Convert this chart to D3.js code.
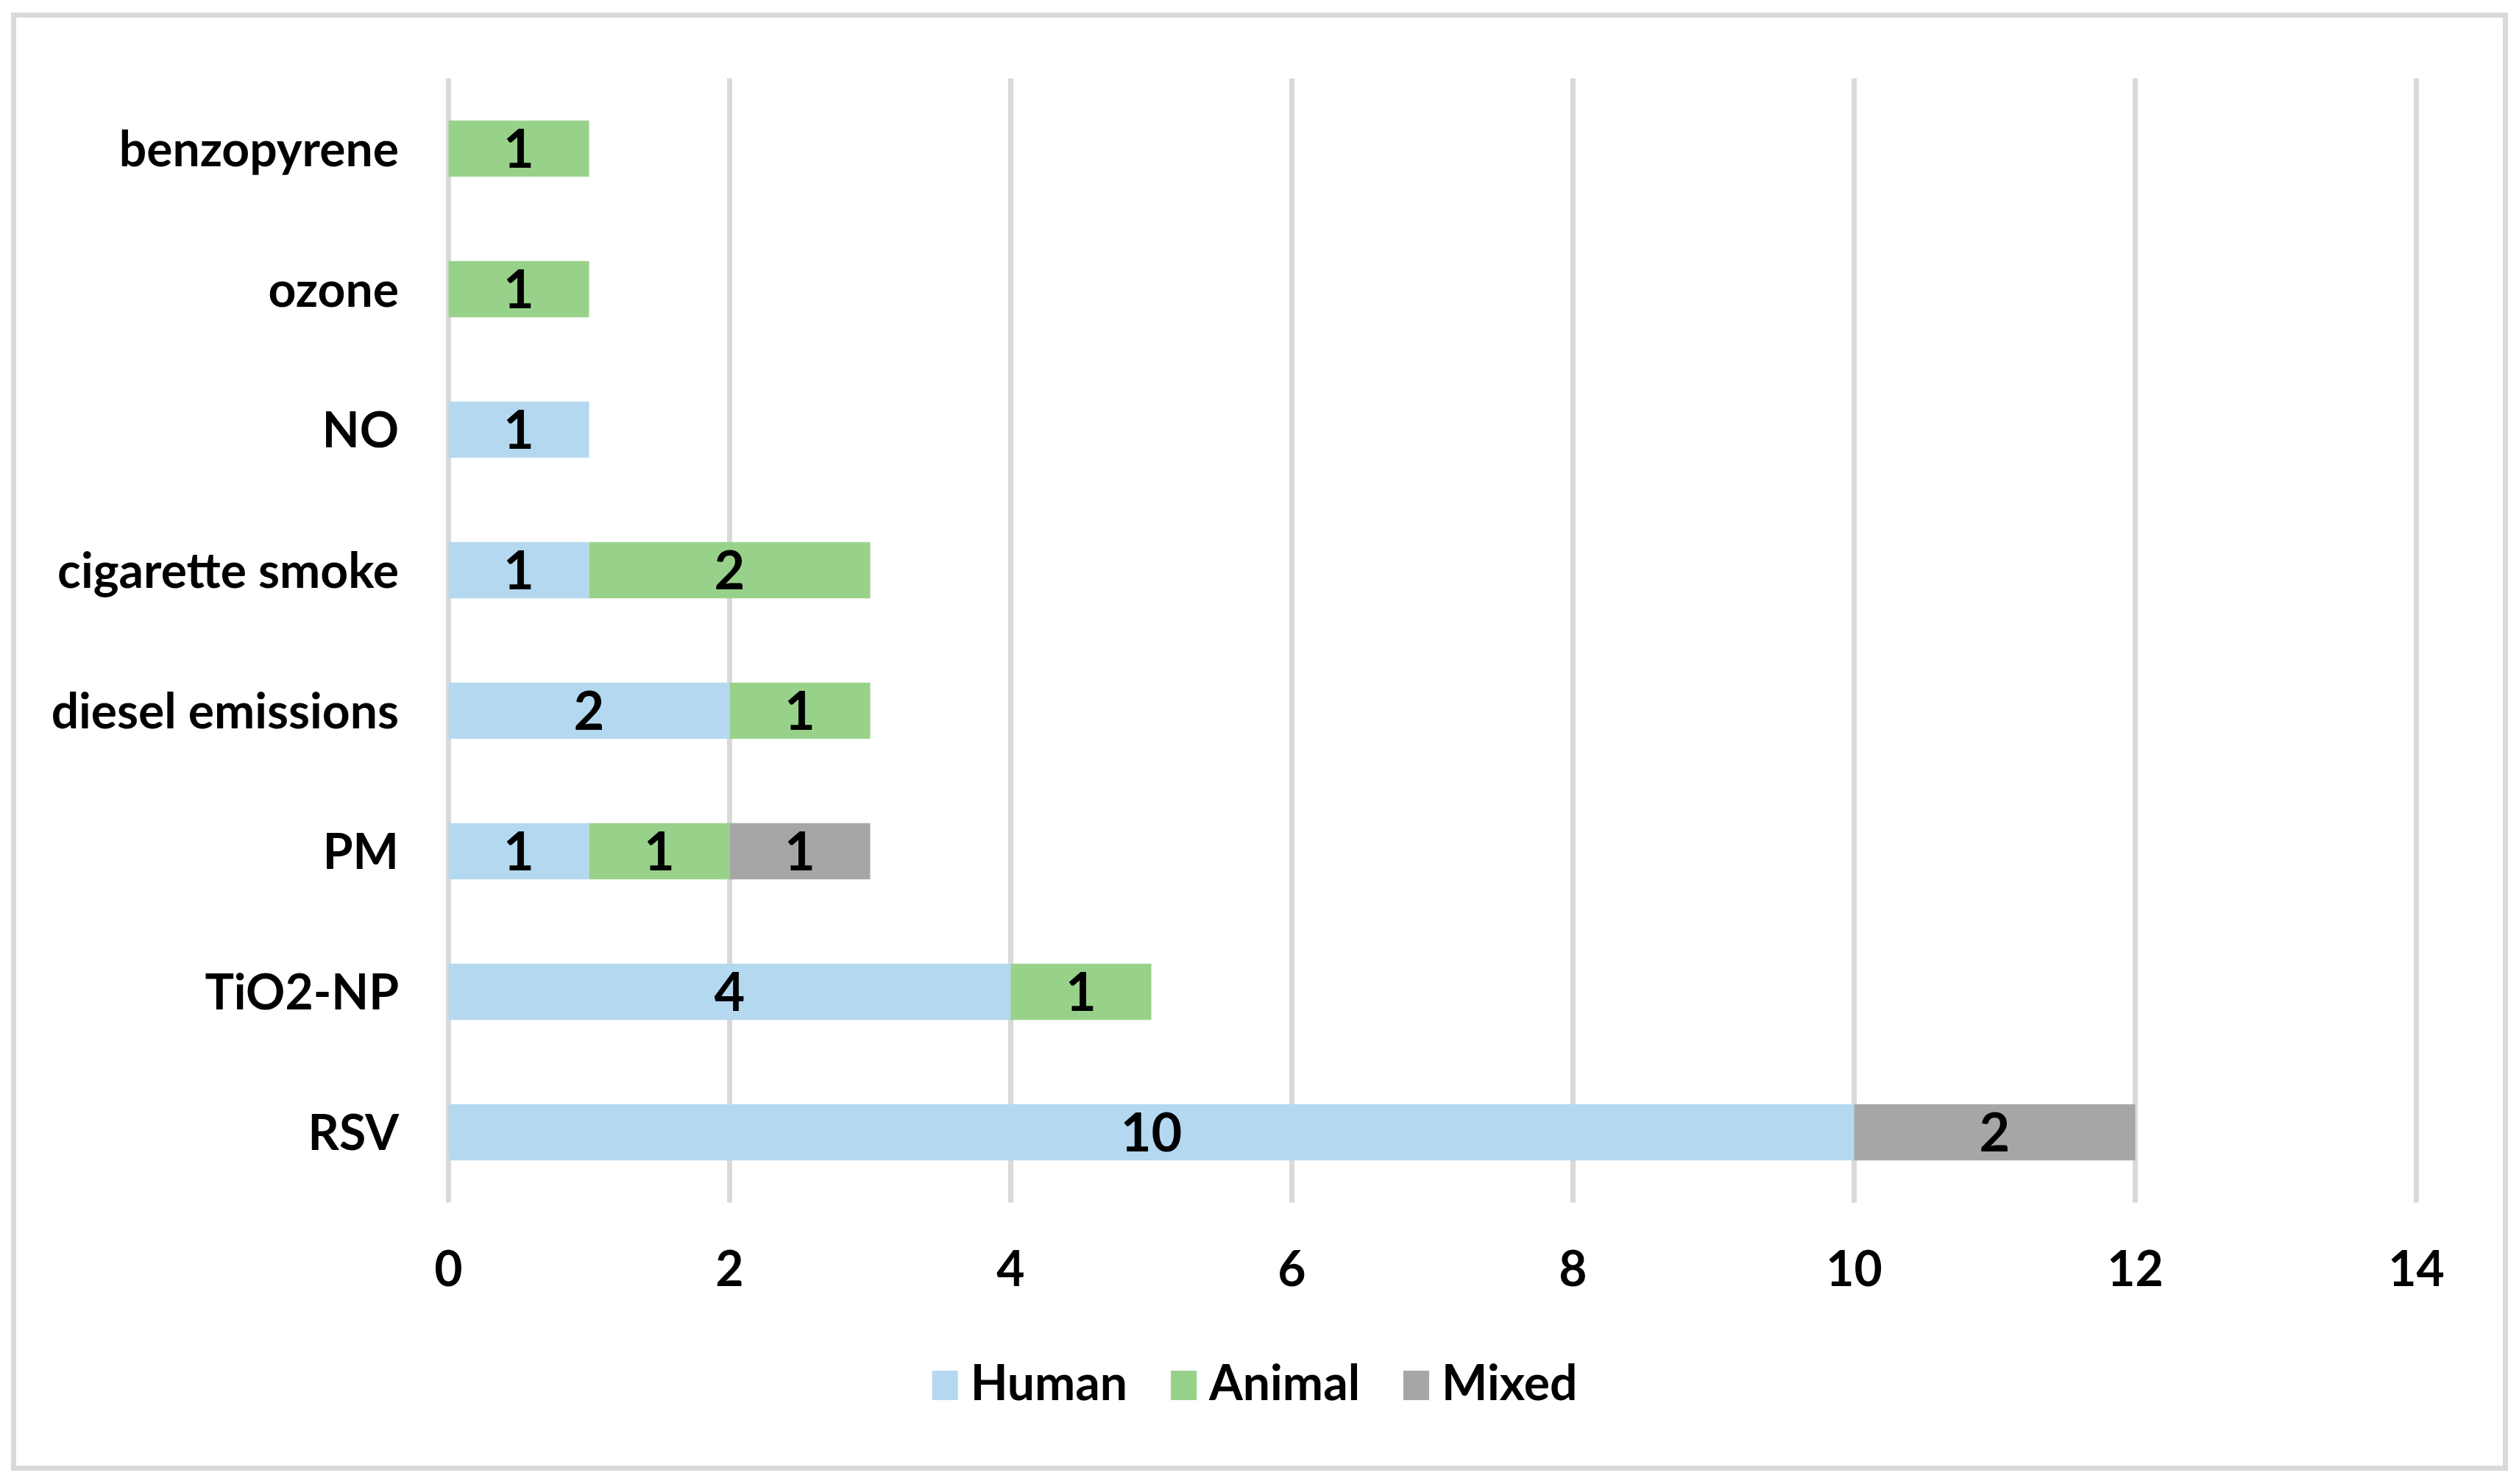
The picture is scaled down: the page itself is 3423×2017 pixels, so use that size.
<!DOCTYPE html>
<html>
<head>
<meta charset="utf-8">
<script src="https://cdn.jsdelivr.net/npm/d3@7"></script>
<style>
  body { margin: 0; background: #fff; }
  text { font-family: Lato, "Open Sans", sans-serif; font-weight: bold; fill: #000; }
</style>
</head>
<body>
<svg id="chart" width="3423" height="2017"></svg>
<script>
var categories = ["benzopyrene", "ozone", "NO", "cigarette smoke", "diesel emissions", "PM", "TiO2-NP", "RSV"];
var human  = [0, 0, 1, 1, 2, 1, 4, 10];
var animal = [1, 1, 0, 2, 1, 1, 1, 0];
var mixed  = [0, 0, 0, 0, 0, 1, 0, 2];
var seriesNames = ["Human", "Animal", "Mixed"];
var seriesColors = ["#b4d8ef", "#98d28a", "#a6a6a6"];
var xTicks = [0, 2, 4, 6, 8, 10, 12, 14];

var svg = d3.select("#chart");

// outer frame
svg.append("rect")
    .attr("x", 18.5).attr("y", 20.5)
    .attr("width", 3386).attr("height", 1975)
    .style("fill", "white")
    .style("stroke", "#d9d9d9")
    .style("stroke-width", 7);

var plotLeft = 609.5, plotRight = 3283.5, plotTop = 106.5, plotBottom = 1634.5;

var x = d3.scaleLinear().domain([0, 14]).range([plotLeft, plotRight]);
var y = d3.scaleBand().domain(categories).range([plotTop, plotBottom]).paddingInner(0.6).paddingOuter(0.3);

// gridlines
svg.append("g").selectAll("line")
    .data(xTicks)
    .enter()
    .append("line")
    .attr("x1", function(d){return x(d);})
    .attr("x2", function(d){return x(d);})
    .attr("y1", plotTop)
    .attr("y2", plotBottom)
    .style("stroke", "#d9d9d9")
    .style("stroke-width", 7);

// stacked data
var rows = categories.map(function(c, i) {
    return {cat: c, Human: human[i], Animal: animal[i], Mixed: mixed[i]};
});
var stack = d3.stack().keys(seriesNames)(rows);

var layers = svg.append("g").selectAll("g")
    .data(stack)
    .enter()
    .append("g")
    .style("fill", function(d, i){return seriesColors[i];});

layers.selectAll("rect")
    .data(function(d){return d;})
    .enter()
    .append("rect")
    .attr("x", function(d){return x(d[0]);})
    .attr("y", function(d){return y(d.data.cat);})
    .attr("width", function(d){return x(d[1]) - x(d[0]);})
    .attr("height", y.bandwidth());

// data labels
var labelData = [];
stack.forEach(function(layer) {
    layer.forEach(function(d) {
        if (d[1] - d[0] > 0) labelData.push({v: d[1] - d[0], mid: (d[0] + d[1]) / 2, cat: d.data.cat});
    });
});

svg.append("g").selectAll("text")
    .data(labelData)
    .enter()
    .append("text")
    .text(function(d){return d.v;})
    .attr("x", function(d){return x(d.mid);})
    .attr("y", function(d){return y(d.cat) + y.bandwidth() / 2 + 26;})
    .attr("text-anchor", "middle")
    .style("font-size", "72px");

// category labels
svg.append("g").selectAll("text")
    .data(categories)
    .enter()
    .append("text")
    .text(function(d){return d;})
    .attr("x", 542)
    .attr("y", function(d){return y(d) + y.bandwidth() / 2 + 24;})
    .attr("text-anchor", "end")
    .style("font-size", "66px");

// x tick labels
svg.append("g").selectAll("text")
    .data(xTicks)
    .enter()
    .append("text")
    .text(function(d){return d;})
    .attr("x", function(d){return x(d);})
    .attr("y", 1748)
    .attr("text-anchor", "middle")
    .style("font-size", "66px");

// legend
var legend = svg.append("g");
var items = legend.selectAll("g")
    .data(seriesNames)
    .enter()
    .append("g");

items.append("rect")
    .attr("width", 35)
    .attr("height", 40)
    .attr("y", 1863)
    .style("fill", function(d, i){return seriesColors[i];});

items.append("text")
    .text(function(d){return d;})
    .attr("x", 52)
    .attr("y", 1903)
    .style("font-size", "66px");

var widths = [];
items.selectAll("text").each(function(){ widths.push(this.getComputedTextLength()); });
var total = 0;
widths.forEach(function(w, i){ total += 52 + w + (i < widths.length - 1 ? 59 : 0); });
var cx = 1705 - total / 2;
items.attr("transform", function(d, i) {
    var off = cx;
    for (var k = 0; k < i; k++) off += 52 + widths[k] + 59;
    return "translate(" + off + ",0)";
});
</script>
</body>
</html>
